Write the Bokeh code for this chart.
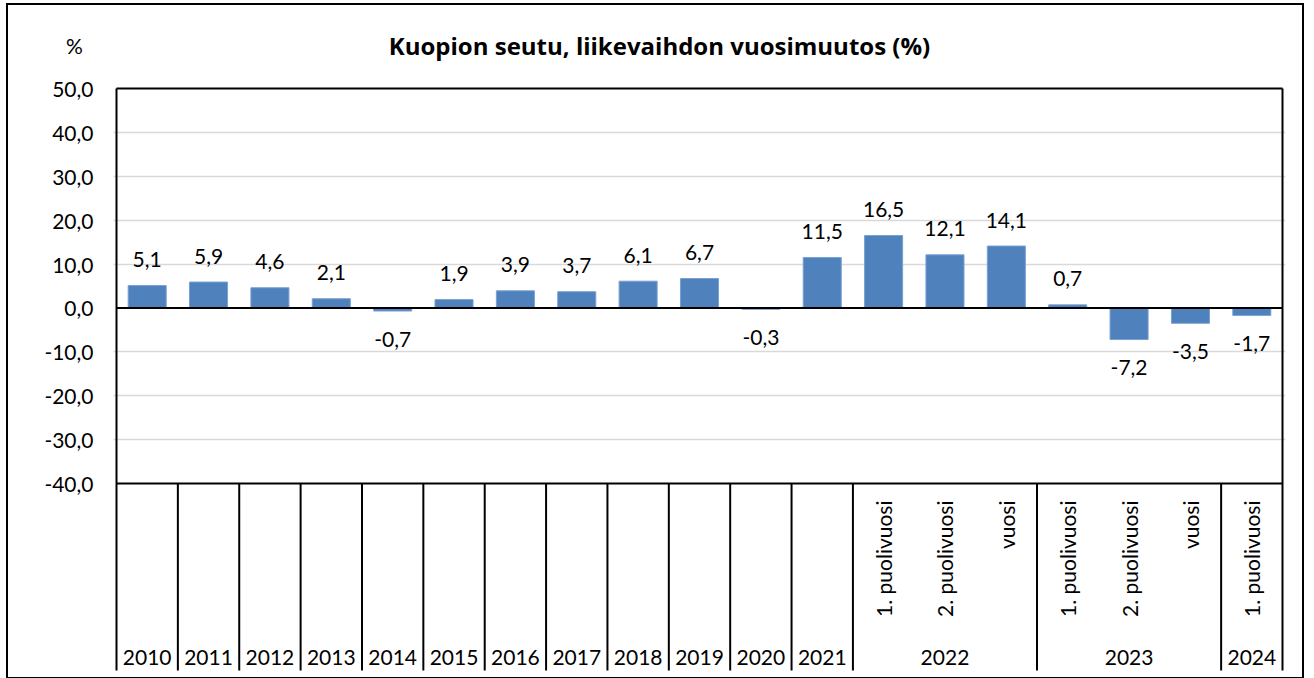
from bokeh.plotting import figure
from bokeh.models import Range1d, FixedTicker, CustomJSTickFormatter, ColumnDataSource
from bokeh.core.properties import value
from bokeh.embed import file_html
from bokeh.resources import INLINE
import math

# ---- data ----
single_years = ["2010", "2011", "2012", "2013", "2014", "2015", "2016", "2017", "2018", "2019", "2020", "2021"]
groups = ["2022", "2023", "2024"]
group_subs = [["1. puolivuosi", "2. puolivuosi", "vuosi"],
              ["1. puolivuosi", "2. puolivuosi", "vuosi"],
              ["1. puolivuosi"]]
values = [5.1, 5.9, 4.6, 2.1, -0.7, 1.9, 3.9, 3.7, 6.1, 6.7, -0.3, 11.5,
          16.5, 12.1, 14.1, 0.7, -7.2, -3.5, -1.7]
y_ticks = [-40, -30, -20, -10, 0, 10, 20, 30, 40, 50]
title_text = "Kuopion seutu, liikevaihdon vuosimuutos (%)"
unit_text = "%"

# ---- layout constants (pixels, figure coordinates) ----
W, H = 1298, 676
XL, XR = 108, 1274          # plot box left/right
YT, YB = 83, 478            # pixel rows of y=50 and y=-40
PAD_L, PAD_R = 3, 3
LINE_END = 665              # bottom of category separator lines
FONT = "Lato"
FS = "21px"
BAR_COLOR = "#4F81BD"

n = len(values)
ymax, ymin = max(y_ticks), min(y_ticks)
ppx = (XR - XL) / n
ppy = (YB - YT) / (ymax - ymin)

def yval(px):
    return ymax - (px - YT) / ppy

def xval(px):
    return (px - XL) / ppx

x_range = Range1d(-PAD_L / ppx, n + PAD_R / ppx)
y_range = Range1d(yval(H), yval(0))

p = figure(width=W, height=H, x_range=x_range, y_range=y_range,
           output_backend="svg", toolbar_location=None,
           min_border_left=XL - PAD_L, min_border_right=W - XR - PAD_R,
           min_border_top=0, min_border_bottom=0)
p.outline_line_color = None
p.xaxis.visible = False
p.xgrid.visible = False
p.styles = {"border": "2px solid black", "margin-left": "6px", "margin-top": "3px"}

# y axis (with the unit "%" as a label above the scale)
unit_pos = yval(40)
p.yaxis.ticker = FixedTicker(ticks=y_ticks + [unit_pos])
p.yaxis.formatter = CustomJSTickFormatter(
    args=dict(top=ymax, unit=unit_text),
    code="if (tick > top) { return unit + '\\u00a0\\u00a0'; } return tick.toFixed(1).replace('.', ',');")
p.yaxis.axis_line_color = None
p.yaxis.major_tick_line_color = None
p.yaxis.minor_tick_line_color = None
p.yaxis.major_tick_out = 0
p.yaxis.major_tick_in = 0
p.yaxis.major_label_text_font = FONT
p.yaxis.major_label_text_font_size = FS
p.yaxis.major_label_text_color = "black"
p.yaxis.major_label_standoff = 20
p.ygrid.ticker = FixedTicker(ticks=[t for t in y_ticks if t not in (ymin, 0, ymax)])
p.ygrid.grid_line_color = "#d9d9d9"
p.ygrid.grid_line_width = 1.5

# bars
xs = [i + 0.5 for i in range(n)]
src = ColumnDataSource(dict(x=xs, top=values,
                            lab=[f"{v:.1f}".replace(".", ",") for v in values],
                            off=[-26 if v >= 0 else 28 for v in values]))
p.vbar(x="x", top="top", bottom=0, width=0.62, source=src,
       fill_color=BAR_COLOR, line_color="#7aa0d0", line_width=1)
p.text(x="x", y="top", text="lab", y_offset="off", source=src,
       text_align="center", text_baseline="middle",
       text_font=value(FONT), text_font_size=FS, text_color="black")

# zero line
p.segment(x0=[0], y0=[0], x1=[n], y1=[0], line_color="black", line_width=2)

# plot box (top and bottom edges)
p.segment(x0=[0, 0], y0=[ymax, ymin], x1=[n, n], y1=[ymax, ymin],
          line_color="black", line_width=2)

# category axis: separators and labels
bounds = list(range(len(single_years) + 1))
pos = len(single_years)
grp_centers = []
sub_x, sub_t = [], []
for g, subs in zip(groups, group_subs):
    grp_centers.append(pos + len(subs) / 2)
    for j, s in enumerate(subs):
        sub_x.append(pos + j + 0.5)
        sub_t.append(s)
    pos += len(subs)
    bounds.append(pos)

yend = yval(LINE_END)
outer = [0, n]
inner = [b for b in bounds if b not in outer]
p.segment(x0=outer, y0=[ymax] * 2, x1=outer, y1=[yend] * 2, line_color="black", line_width=2)
p.segment(x0=inner, y0=[ymin] * len(inner), x1=inner, y1=[yend] * len(inner),
          line_color="black", line_width=2)

top_x = [i + 0.5 for i in range(len(single_years))] + grp_centers
top_t = single_years + groups
p.text(x=top_x, y=[yval(652)] * len(top_x), text=top_t, text_align="center",
       text_baseline="middle", text_font=value(FONT), text_font_size=FS, text_color="black")

p.text(x=sub_x, y=[yval(495)] * len(sub_x), text=sub_t, angle=math.pi / 2,
       text_align="right", text_baseline="middle",
       text_font=value(FONT), text_font_size=FS, text_color="black")

# title
p.text(x=[xval(651)], y=[yval(40)], text=[title_text], text_align="center",
       text_baseline="middle", text_font=value("Open Sans"), text_font_size="24px",
       text_font_style="bold", text_color="black")

open("out.html", "w").write(file_html(p, INLINE))
